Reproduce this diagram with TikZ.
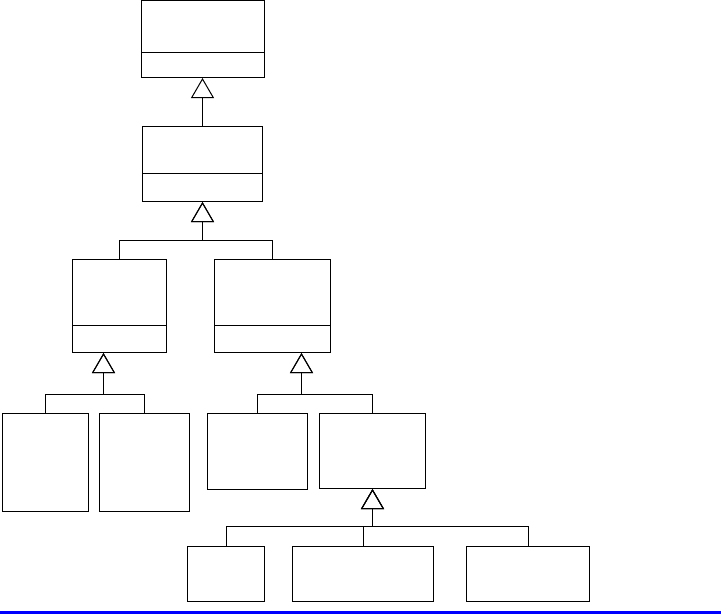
\documentclass[tikz,border=0pt]{standalone}
\usetikzlibrary{arrows.meta,positioning,calc}

\begin{document}
\begin{tikzpicture}[x=1pt, y=-1pt,
  cls/.style={draw, line width=1pt, inner sep=0pt, anchor=north west},
  inh/.style={-{Triangle[open, length=20pt, width=23pt]}, line width=1pt}
]
\useasboundingbox (0,0) rectangle (721,614);

% classes
\node[cls, minimum width=123pt, minimum height=77pt] (top) at (141,0) {};
\node[cls, minimum width=120pt, minimum height=75pt] (mid) at (142,126) {};
\node[cls, minimum width=94pt, minimum height=93pt] (left) at (72,259) {};
\node[cls, minimum width=116pt, minimum height=93pt] (right) at (214,259) {};
\node[cls, minimum width=86pt, minimum height=98pt] (ll) at (2,413) {};
\node[cls, minimum width=90pt, minimum height=98pt] (lr) at (99,413) {};
\node[cls, minimum width=100pt, minimum height=76pt] (rl) at (207,413) {};
\node[cls, minimum width=106pt, minimum height=75pt] (rr) at (319,413) {};
\node[cls, minimum width=77pt, minimum height=55pt] (rra) at (187,546) {};
\node[cls, minimum width=141pt, minimum height=55pt] (rrb) at (292,546) {};
\node[cls, minimum width=123pt, minimum height=55pt] (rrc) at (466,546) {};

% compartments
\draw[line width=1pt] (top.west |- 0,52) -- (top.east |- 0,52);
\draw[line width=1pt] (mid.west |- 0,173) -- (mid.east |- 0,173);
\draw[line width=1pt] (left.west |- 0,325) -- (left.east |- 0,325);
\draw[line width=1pt] (right.west |- 0,325) -- (right.east |- 0,325);

% inheritance
\draw[inh] (mid.north) -- (mid.north |- top.south);

\coordinate (jmid) at (mid.south |- 0,240);
\draw[inh] (left.north) |- (jmid) -- (mid.south);
\draw[inh] (right.north) |- (jmid) -- (mid.south);

\coordinate (tleft) at ([xshift=-16pt]left.south);
\coordinate (jleft) at (tleft |- 0,394);
\draw[inh] (ll.north) |- (jleft) -- (tleft);
\draw[inh] (lr.north) |- (jleft) -- (tleft);

\coordinate (tright) at ([xshift=29pt]right.south);
\coordinate (jright) at (tright |- 0,394);
\draw[inh] (rl.north) |- (jright) -- (tright);
\draw[inh] (rr.north) |- (jright) -- (tright);

\coordinate (jrr) at (rr.south |- 0,526);
\draw[inh] (rra.north) |- (jrr) -- (rr.south);
\draw[inh] (rrb.north) |- (jrr) -- (rr.south);
\draw[inh] (rrc.north) |- (jrr) -- (rr.south);

\draw[blue, line width=2.5pt] (0,612.5) -- (721,612.5);
\end{tikzpicture}
\end{document}
